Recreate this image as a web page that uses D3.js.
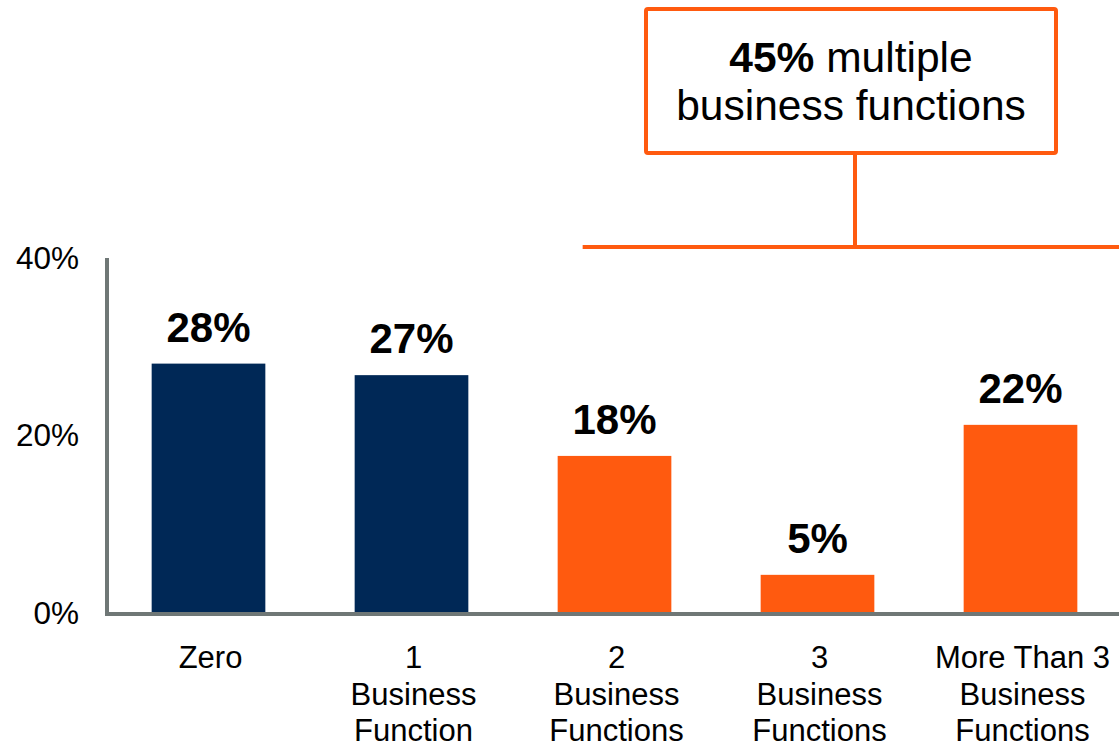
<!DOCTYPE html>
<html>
<head>
<meta charset="utf-8">
<script src="https://cdn.jsdelivr.net/npm/d3@7/dist/d3.min.js"></script>
<style>
  html, body { margin: 0; padding: 0; background: #ffffff; }
  svg { display: block; font-family: "Liberation Sans", Arial, sans-serif; }
</style>
</head>
<body>
<svg id="chart" width="1119" height="749"></svg>
<script>
// ---- data ----
const categories = ["Zero", "1 Business Function", "2 Business Functions", "3 Business Functions", "More Than 3 Business Functions"];
const categoryLines = [["Zero"], ["1", "Business", "Function"], ["2", "Business", "Functions"], ["3", "Business", "Functions"], ["More Than 3", "Business", "Functions"]];
const values = [28.1, 26.8, 17.7, 4.3, 21.2];
const valueLabels = ["28%", "27%", "18%", "5%", "22%"];
const groups = ["single", "single", "multiple", "multiple", "multiple"];
const yTicks = [0, 20, 40];
const calloutBold = "45%";
const calloutRest = " multiple";
const calloutLine2 = "business functions";

// ---- styles ----
const navy = "#002856";
const orange = "#FF5A0F";
const axisGray = "#6F7776";

const svg = d3.select("#chart");
const W = 1119, H = 749;

const x = d3.scaleBand()
  .domain(categories)
  .range([107, 1122])
  .paddingInner(0.44)
  .paddingOuter(0.22);

const y = d3.scaleLinear()
  .domain([0, 40])
  .range([613, 258]);

const color = d3.scaleOrdinal().domain(["single", "multiple"]).range([navy, orange]);

// bars
svg.append("g").selectAll("rect")
  .data(categories)
  .join("rect")
  .attr("x", d => x(d))
  .attr("width", x.bandwidth())
  .attr("y", (d, i) => y(values[i]))
  .attr("height", (d, i) => y(0) - y(values[i]))
  .attr("fill", (d, i) => color(groups[i]));

// value labels
svg.append("g").selectAll("text")
  .data(categories)
  .join("text")
  .attr("x", d => x(d) + x.bandwidth() / 2)
  .attr("y", (d, i) => y(values[i]) - 22)
  .attr("text-anchor", "middle")
  .attr("font-size", 42)
  .attr("font-weight", "bold")
  .attr("fill", "#000")
  .text((d, i) => valueLabels[i]);

// y axis
const yAxis = d3.axisLeft(y)
  .tickValues(yTicks)
  .tickSize(0)
  .tickPadding(28)
  .tickFormat(d => d + "%");
const gy = svg.append("g").attr("transform", "translate(107,0)").call(yAxis);
gy.select(".domain").remove();
gy.selectAll("text")
  .attr("font-size", 31.5)
  .attr("font-family", "'Liberation Sans', Arial, sans-serif")
  .attr("fill", "#000");

svg.append("line")
  .attr("x1", 107).attr("x2", 107)
  .attr("y1", y(40)).attr("y2", y(0) + 3)
  .attr("stroke", axisGray).attr("stroke-width", 4);

// x axis baseline
svg.append("line")
  .attr("x1", 105).attr("x2", W)
  .attr("y1", y(0) + 1).attr("y2", y(0) + 1)
  .attr("stroke", axisGray).attr("stroke-width", 4);

// category labels
const cat = svg.append("g").selectAll("text")
  .data(categories)
  .join("text")
  .attr("text-anchor", "middle")
  .attr("font-size", 31)
  .attr("fill", "#000");
cat.each(function(d, i) {
  const t = d3.select(this);
  categoryLines[i].forEach((line, j) => {
    t.append("tspan")
      .attr("x", x(d) + x.bandwidth() / 2 + 2)
      .attr("y", 668 + j * 36.5)
      .text(line);
  });
});

// callout bracket
const firstMulti = groups.indexOf("multiple");
const bracketX1 = x(categories[firstMulti]) + 25;
svg.append("line")
  .attr("x1", bracketX1).attr("x2", W)
  .attr("y1", 247).attr("y2", 247)
  .attr("stroke", orange).attr("stroke-width", 4);
svg.append("line")
  .attr("x1", 855).attr("x2", 855)
  .attr("y1", 153).attr("y2", 247)
  .attr("stroke", orange).attr("stroke-width", 4);
svg.append("rect")
  .attr("x", 646).attr("y", 9)
  .attr("width", 410).attr("height", 144)
  .attr("rx", 2)
  .attr("fill", "#fff")
  .attr("stroke", orange).attr("stroke-width", 4);

const ct = svg.append("text")
  .attr("text-anchor", "middle")
  .attr("font-size", 42.5)
  .attr("fill", "#000");
ct.append("tspan").attr("x", 851).attr("y", 72)
  .attr("font-weight", "bold").text(calloutBold);
ct.append("tspan").text(calloutRest);
ct.append("tspan").attr("x", 851).attr("y", 120).text(calloutLine2);
</script>
</body>
</html>
